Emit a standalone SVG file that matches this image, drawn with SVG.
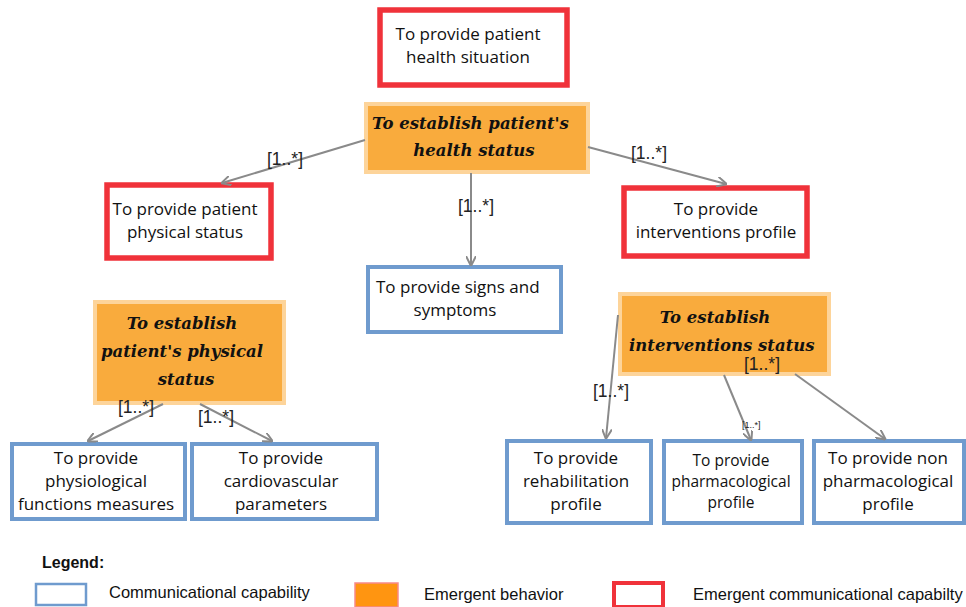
<svg xmlns="http://www.w3.org/2000/svg" width="966" height="607" viewBox="0 0 966 607">
<style>
.bg{fill:#fff}
.red{fill:#fff;stroke:#f0323a;stroke-width:5.5}
.blue{fill:#fff;stroke:#6f9bce;stroke-width:4}
.org{fill:#f9ab3d;stroke:#fdd49a;stroke-width:4}
.t{font-family:"Open Sans","Liberation Sans",sans-serif;font-size:17px;fill:#111}
.e{font-family:"DejaVu Serif",serif;font-size:16.5px;font-weight:bold;font-style:italic;fill:#111}
.lb{font-family:"Liberation Sans",sans-serif;font-size:17.5px;fill:#222}
.c{stroke:#8a8a8a;stroke-width:2;fill:none;marker-end:url(#a)}
.lg{font-family:"Liberation Sans",sans-serif;font-size:16.5px;fill:#111}
</style>
<defs>
<marker id="a" viewBox="0 0 10 10" refX="9" refY="5" markerWidth="10" markerHeight="10" markerUnits="userSpaceOnUse" orient="auto">
<path d="M0,0 L10,5 L0,10" fill="none" stroke="#8a8a8a" stroke-width="2"/>
</marker>
</defs>
<rect class="bg" width="966" height="607"/>

<g id="n1"><rect class="red" x="380" y="10" width="187" height="75"/>
<text class="t" x="468" y="40" text-anchor="middle">To provide patient</text>
<text class="t" x="468" y="63" text-anchor="middle">health situation</text></g>

<g id="n2"><rect class="org" x="366" y="104" width="222" height="68"/>
<text class="e" x="372" y="129">To establish patient's</text>
<text class="e" x="474" y="156" text-anchor="middle">health status</text></g>

<g id="n3"><rect class="red" x="107" y="185" width="164" height="73"/>
<text class="t" x="185" y="215" text-anchor="middle">To provide patient</text>
<text class="t" x="185" y="238" text-anchor="middle">physical status</text></g>

<g id="n4"><rect class="red" x="624" y="188" width="183" height="68"/>
<text class="t" x="716" y="215" text-anchor="middle">To provide</text>
<text class="t" x="716" y="238" text-anchor="middle">interventions profile</text></g>

<g id="n5"><rect class="blue" x="368" y="267" width="193" height="65"/>
<text class="t" x="376" y="293">To provide signs and</text>
<text class="t" x="455" y="316" text-anchor="middle">symptoms</text></g>

<g id="n6"><rect class="org" x="95" y="302" width="189" height="101"/>
<text class="e" x="182" y="329" text-anchor="middle">To establish</text>
<text class="e" x="182" y="357" text-anchor="middle">patient's physical</text>
<text class="e" x="186" y="385" text-anchor="middle">status</text></g>

<g id="n7"><rect class="org" x="620" y="294" width="209" height="80"/>
<text class="e" x="715" y="323" text-anchor="middle">To establish</text>
<text class="e" x="629" y="351">interventions status</text></g>

<g id="n8"><rect class="blue" x="12" y="444" width="173" height="75"/>
<text class="t" x="96" y="464" text-anchor="middle">To provide</text>
<text class="t" x="96" y="487" text-anchor="middle">physiological</text>
<text class="t" x="96" y="510" text-anchor="middle">functions measures</text></g>

<g id="n9"><rect class="blue" x="192" y="444" width="185" height="75"/>
<text class="t" x="281" y="464" text-anchor="middle">To provide</text>
<text class="t" x="281" y="487" text-anchor="middle">cardiovascular</text>
<text class="t" x="281" y="510" text-anchor="middle">parameters</text></g>

<g id="n10"><rect class="blue" x="507" y="441" width="144" height="82"/>
<text class="t" x="576" y="464" text-anchor="middle">To provide</text>
<text class="t" x="576" y="487" text-anchor="middle">rehabilitation</text>
<text class="t" x="576" y="510" text-anchor="middle">profile</text></g>

<g id="n11"><rect class="blue" x="664" y="441" width="138" height="82"/>
<text class="t" x="731" y="466" text-anchor="middle" style="font-size:15.5px">To provide</text>
<text class="t" x="731" y="487" text-anchor="middle" style="font-size:15.5px">pharmacological</text>
<text class="t" x="731" y="508" text-anchor="middle" style="font-size:15.5px">profile</text></g>

<g id="n12"><rect class="blue" x="814" y="441" width="150" height="82"/>
<text class="t" x="888" y="464" text-anchor="middle">To provide non</text>
<text class="t" x="888" y="487" text-anchor="middle">pharmacological</text>
<text class="t" x="888" y="510" text-anchor="middle">profile</text></g>

<g id="connectors">
<path class="c" d="M365,140 L222,183"/>
<text class="lb" x="267" y="165">[1..*]</text>
<path class="c" d="M471,173 L471,265"/>
<text class="lb" x="458" y="212">[1..*]</text>
<path class="c" d="M588,147 L726,184"/>
<text class="lb" x="631" y="159">[1..*]</text>
<path class="c" d="M163,404 L88,441"/>
<text class="lb" x="118" y="413">[1..*]</text>
<path class="c" d="M200,404 L272,441"/>
<text class="lb" x="198" y="423">[1..*]</text>
<path class="c" d="M618,315 L606,438"/>
<text class="lb" x="593" y="397">[1..*]</text>
<path class="c" d="M724,375 L751,440"/>
<text class="lb" x="742" y="428" style="font-size:9px">[1..*]</text>
<path class="c" d="M795,374 L885,439"/>
<text class="lb" x="744" y="370">[1..*]</text>
</g>

<g id="legend">
<text class="lg" x="42" y="568" style="font-weight:bold;font-size:16px">Legend:</text>
<rect x="36" y="584" width="50" height="21" fill="#fff" stroke="#6f9bce" stroke-width="2.5"/>
<text class="lg" x="109" y="598">Communicational capability</text>
<rect x="355" y="583" width="43" height="24" fill="#ff9511" stroke="#f78a8a" stroke-width="1.5"/>
<text class="lg" x="424" y="600">Emergent behavior</text>
<rect x="614" y="583" width="49" height="24" fill="#fff" stroke="#f0323a" stroke-width="4"/>
<text class="lg" x="693" y="600">Emergent communicational capabilty</text>
</g>
</svg>
